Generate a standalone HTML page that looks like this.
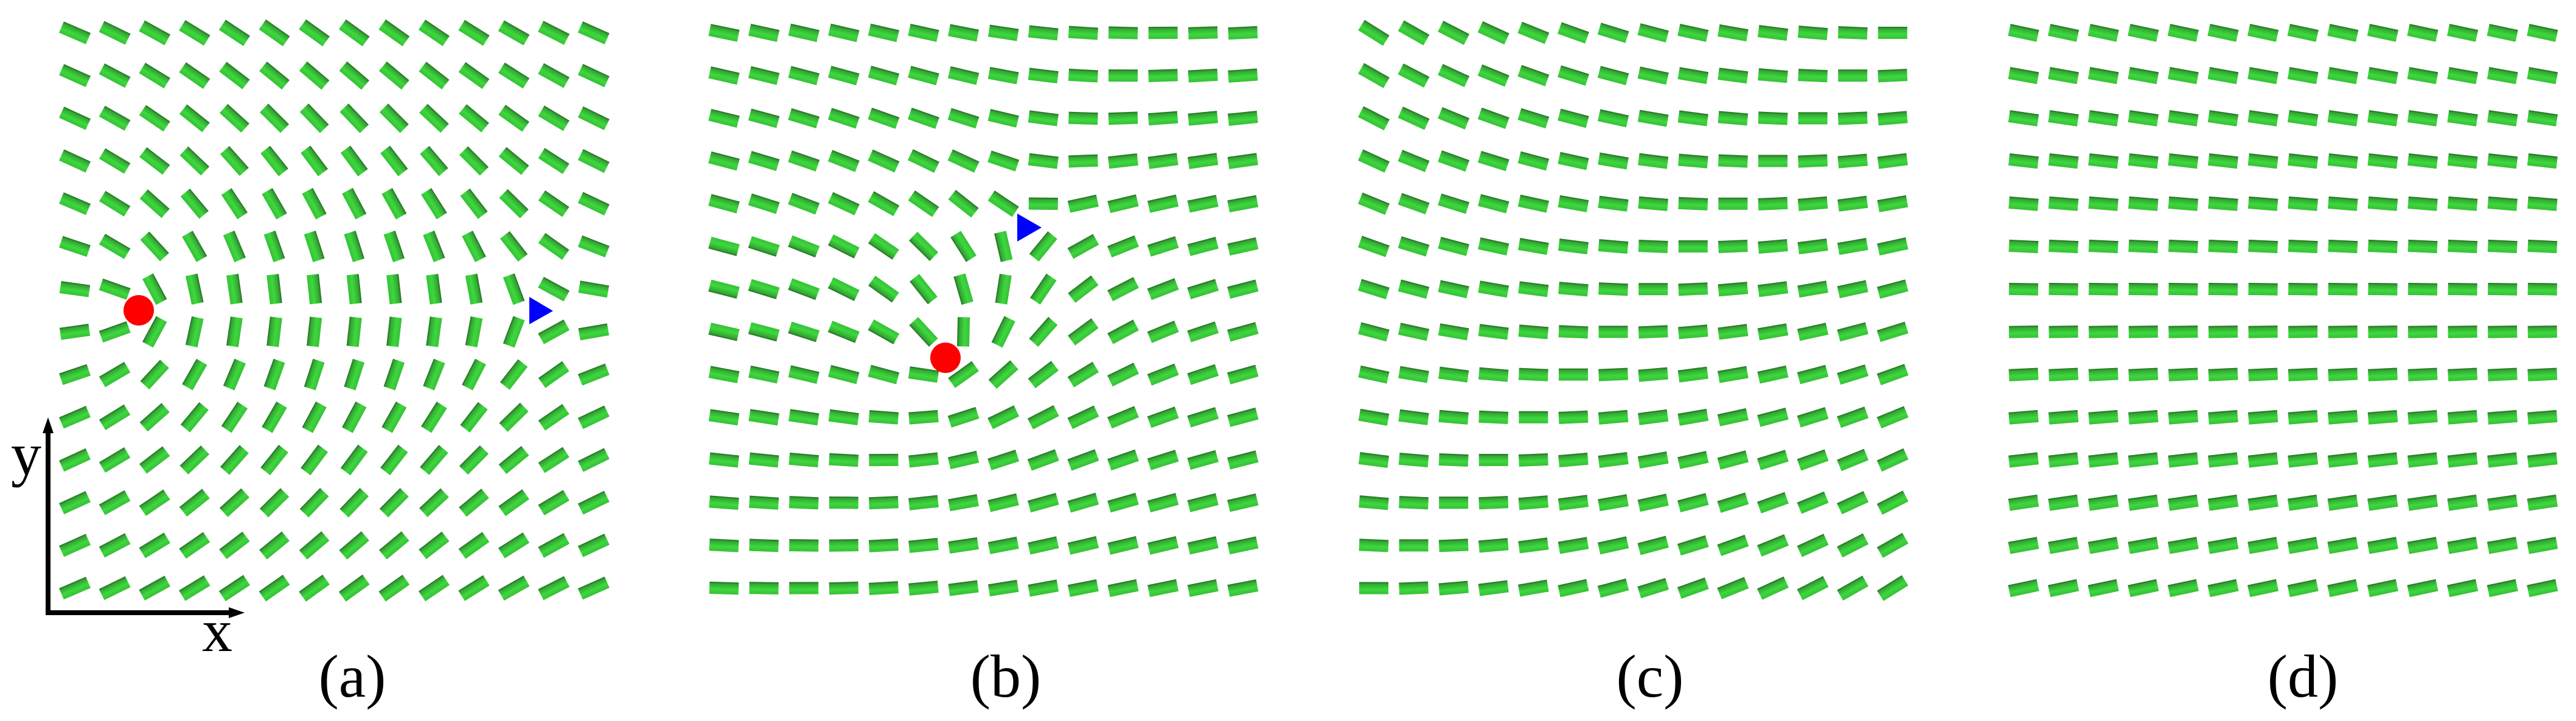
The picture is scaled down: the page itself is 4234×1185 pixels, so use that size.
<!DOCTYPE html>
<html><head><meta charset="utf-8">
<style>
html,body{margin:0;padding:0;background:#fff;}
svg{display:block;}
text{font-family:"Liberation Serif",serif;fill:#000;}
</style></head>
<body>
<svg id="s" width="4234" height="1185" viewBox="0 0 4234 1185" xmlns="http://www.w3.org/2000/svg">
<defs>
<linearGradient id="g" x1="0" y1="0" x2="0" y2="1">
<stop offset="0" stop-color="#246e24"/>
<stop offset="0.18" stop-color="#33a833"/>
<stop offset="0.6" stop-color="#3ed83e"/>
<stop offset="1" stop-color="#36c036"/>
</linearGradient>
</defs>
<g id="rods"></g>
<!-- axes -->
<line x1="79" y1="1007" x2="79" y2="700" stroke="#000" stroke-width="8"/>
<polygon points="79,686 70,712 88,712" fill="#000"/>
<line x1="75" y1="1007" x2="385" y2="1007" stroke="#000" stroke-width="8"/>
<polygon points="402,1007 376,998 376,1016" fill="#000"/>
<text x="18" y="780" font-size="100">y</text>
<text x="332" y="1070" font-size="100">x</text>
<!-- defects -->
<circle cx="228" cy="510" r="25" fill="#f00"/>
<polygon points="870,488 870,533 909,511" fill="#00f"/>
<circle cx="1554" cy="588" r="25" fill="#f00"/>
<polygon points="1672,351 1672,397 1712,374" fill="#00f"/>
<!-- labels -->
<text x="579" y="1145" font-size="100" text-anchor="middle">(a)</text>
<text x="1653" y="1145" font-size="100" text-anchor="middle">(b)</text>
<text x="2712" y="1145" font-size="100" text-anchor="middle">(c)</text>
<text x="3785" y="1145" font-size="100" text-anchor="middle">(d)</text>
</svg>
<script>
(function(){
var g=document.getElementById('rods');
var D=Math.PI/180;
function ang(x,y,xd,yd){return Math.atan2(-(y-yd),x-xd);}
var panels=[
 {x0:123,f:function(x,y){return ang(x,y,228,510)/2-ang(x,y,890,510)/2;}},
 {x0:1190,f:function(x,y){return ang(x,y,1554,588)/2-ang(x,y,1691,374)/2;}},
 {x0:2258,f:function(x,y,u,v){return 32*D*(u-v)/2;}},
 {x0:3326,f:function(x,y,u,v){return -12*D*v;}}
];
var html='';
panels.forEach(function(p){
 for(var i=0;i<14;i++){for(var j=0;j<14;j++){
  var x=p.x0+i*65.6, y=54+j*70.2;
  var u=(i-6.5)/6.5, v=-(j-6.5)/6.5;
  var t=p.f(x,y,u,v);
  var deg=-t/D;
  html+='<rect x="-24" y="-10" width="48" height="20" fill="url(#g)" transform="translate('+x.toFixed(1)+' '+y.toFixed(1)+') rotate('+deg.toFixed(2)+')"/>';
 }}
});
g.innerHTML=html;
})();
</script>
</body></html>
